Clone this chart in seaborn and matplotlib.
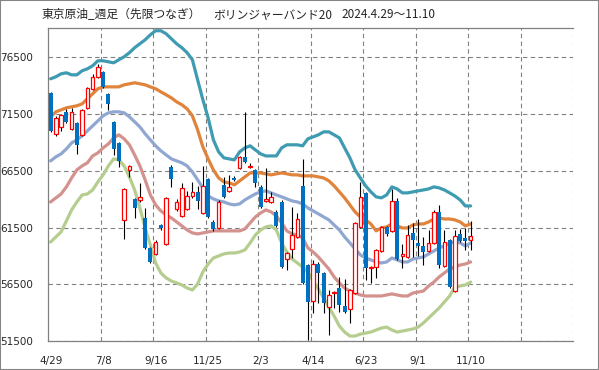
import numpy as np
import pandas as pd
import seaborn as sns
import matplotlib
matplotlib.use("Agg")
import matplotlib.pyplot as plt
from matplotlib.patches import Rectangle

# weekly OHLC, 2024/4/29 - 2025/11/10 (81 weeks)
opens = [73380, 69770, 70380, 71710, 70210, 70690, 69680, 72040, 73740, 74820,
         75180, 73300, 70830, 68970, 62130, 66590, 64000, 63900, 62330, 59680,
         59180, 61730, 60060, 66880, 63150, 62530, 63120, 64250, 64600, 62770,
         65770, 62030, 61500, 65270, 64760, 65910, 66790, 67710, 66830, 66590,
         65120, 63880, 63790, 62910, 63760, 58710, 59590, 60650, 65180, 58200,
         55050, 58290, 57500, 54500, 55730, 56170, 54590, 54320, 55730, 61560,
         64560, 57940, 58030, 59440, 61560, 61210, 63850, 59030, 58910, 61030,
         60150, 59880, 59470, 60170, 62910, 58120, 60410, 55940, 60940, 60610,
         60410]
highs = [73470, 71360, 71530, 71970, 72060, 70830, 71970, 73910, 75060, 75940,
         75350, 73390, 70910, 69060, 65000, 67030, 64120, 65440, 63240, 59790,
         60410, 61820, 64210, 67030, 64030, 65440, 64740, 65530, 65180, 66940,
         65880, 62180, 63940, 66000, 66150, 66060, 67820, 71730, 67180, 66680,
         65270, 66740, 64670, 63060, 63940, 59350, 63300, 62790, 67530, 58290,
         58650, 58470, 57590, 56000, 55910, 57150, 56970, 56090, 62000, 65530,
         64650, 58120, 59620, 61650, 61650, 64890, 64120, 60060, 61730, 61910,
         62260, 60700, 61290, 63060, 63500, 61290, 60500, 61290, 61380, 61470,
         62090]
lows = [69940, 69590, 70030, 70740, 70120, 68000, 69590, 71970, 73650, 74710,
        73830, 71880, 67910, 66850, 60500, 65970, 62350, 63760, 59590, 58380,
        59090, 61290, 59970, 65090, 62970, 62440, 63060, 64120, 63150, 62710,
        62350, 61200, 61380, 64120, 64650, 65620, 66680, 67210, 66770, 65120,
        63210, 63760, 63680, 61560, 57940, 57760, 58850, 60590, 56530, 51600,
        53990, 54850, 53970, 52030, 54410, 54060, 53970, 53090, 55650, 61470,
        56880, 56620, 57060, 59350, 60760, 61120, 58650, 57970, 58820, 58940,
        59000, 58200, 59350, 60060, 57940, 58030, 56180, 55850, 60230, 59530,
        59530]
closes = [70030, 71180, 71440, 70830, 71710, 68800, 71840, 73800, 74770, 75650,
          73890, 72410, 68440, 67380, 64890, 66900, 63210, 64180, 59680, 58500,
          60260, 61430, 64090, 65770, 63760, 64970, 64290, 64650, 63850, 65180,
          62470, 61360, 63790, 64230, 65120, 65710, 67710, 67320, 66940, 65420,
          63350, 64030, 64230, 61650, 57990, 59240, 60850, 62240, 56590, 54970,
          58290, 57520, 54850, 55560, 55820, 54670, 54060, 56000, 61910, 64210,
          57940, 58030, 59530, 61560, 60940, 63850, 58730, 59180, 60850, 60410,
          59880, 59350, 60150, 62910, 58200, 60260, 56240, 60760, 60320, 60320,
          60790]

# Bollinger band (20)
upper2 = [74620, 74800, 75060, 75150, 74970, 74970, 75330, 75500, 75770, 76210,
          76210, 76120, 76030, 76300, 76560, 76920, 77360, 77710, 78060, 78500,
          78860, 78860, 78590, 78150, 77710, 77360, 76920, 76300, 74530, 72770,
          71180, 69240, 68180, 67650, 67560, 67470, 68180, 68530, 68710, 68350,
          68000, 67820, 67820, 67820, 68530, 68800, 68800, 68800, 68710, 69330,
          69500, 69680, 69940, 69940, 69680, 69410, 68530, 67650, 66590, 65880,
          65180, 64650, 64210, 64120, 64380, 65090, 64910, 64560, 64560, 64650,
          64740, 64820, 64910, 65090, 65000, 64820, 64560, 64290, 63940, 63410,
          63410]
upper1 = [71270, 71710, 71880, 72060, 72150, 72240, 72410, 72860, 73300, 73740,
          73910, 73910, 73910, 73910, 74090, 74180, 74270, 74180, 74090, 73910,
          73740, 73470, 73210, 72940, 72590, 72330, 71970, 71360, 70120, 68620,
          67560, 66590, 65880, 65530, 65440, 65270, 65620, 65970, 66320, 66320,
          66320, 66240, 66150, 66240, 66320, 66240, 66150, 66150, 66060, 66060,
          66060, 65970, 65880, 65620, 65180, 64650, 64120, 63500, 62880, 62440,
          62180, 61820, 61210, 61470, 61560, 61820, 61650, 61470, 61470, 61730,
          61820, 61820, 62000, 62260, 62350, 62260, 62260, 62180, 62000, 61650,
          61820]
middle = [67380, 67740, 68000, 68440, 68970, 69240, 69590, 70030, 70470, 70910,
          71360, 71620, 71710, 71710, 71620, 71270, 70830, 70380, 69770, 69240,
          68710, 68270, 67910, 67560, 67380, 67210, 66940, 66410, 65710, 65000,
          64290, 64030, 63850, 63760, 63590, 63500, 63590, 63940, 64210, 64470,
          64650, 64740, 64560, 64380, 64210, 64030, 63850, 63760, 63590, 63240,
          62970, 62710, 62440, 62180, 61730, 61290, 60680, 60150, 59620, 59090,
          58820, 58650, 58470, 58380, 58470, 58820, 58650, 58470, 58470, 58730,
          58820, 58910, 59180, 59440, 59710, 59880, 60150, 60230, 60150, 59880,
          60150]
lower1 = [63760, 64120, 64470, 65090, 65880, 66590, 66940, 67210, 67820, 68090,
          68530, 68880, 69410, 69680, 69330, 68800, 67910, 66940, 65710, 64380,
          63500, 62970, 62620, 62350, 62000, 61650, 61290, 61030, 60940, 61030,
          61120, 61210, 61210, 61210, 61210, 61210, 61210, 61380, 61910, 62440,
          62790, 63060, 62880, 62530, 61910, 61210, 60940, 60850, 60590, 59710,
          59350, 58910, 58380, 57850, 57150, 56620, 56170, 55910, 55730, 55560,
          55470, 55470, 55470, 55470, 55560, 55650, 55560, 55470, 55470, 55730,
          55820, 55910, 56350, 56700, 57150, 57500, 57850, 58030, 58200, 58290,
          58470]
lower2 = [60230, 60680, 61120, 62090, 63060, 63760, 64380, 64470, 64820, 65530,
          66150, 66940, 67560, 67470, 66940, 65970, 64820, 63240, 61470, 59970,
          58380, 57500, 57060, 56790, 56620, 56440, 56170, 56000, 56530, 57590,
          58290, 58820, 59000, 59180, 59260, 59260, 59350, 59530, 60150, 60850,
          61290, 61560, 61650, 61290, 60150, 59350, 58730, 58380, 58030, 57590,
          56790, 56090, 55290, 54500, 53700, 52820, 52290, 51940, 51940, 52110,
          52200, 52290, 52470, 52640, 52730, 52470, 52290, 52380, 52470, 52560,
          52730, 53090, 53530, 53970, 54410, 54940, 55470, 56260, 56350, 56440,
          56700]

date_labels = ["4/29", "7/8", "9/16", "11/25", "2/3", "4/14", "6/23", "9/1", "11/10"]
y_ticks = [51500, 56500, 61500, 66500, 71500, 76500]

band_names = ["+2σ", "+1σ", "中心線", "-1σ", "-2σ"]
band_colors = {"+2σ": "#3f9bb1", "+1σ": "#e0833b", "中心線": "#8fa7d1",
               "-1σ": "#d4928e", "-2σ": "#b6cd90"}

weeks = np.arange(len(closes))
bands = pd.DataFrame({
    "week": np.tile(weeks, 5),
    "price": np.concatenate([upper2, upper1, middle, lower1, lower2]),
    "band": np.repeat(band_names, len(weeks)),
})

sns.set_style("white")
plt.rcParams["font.family"] = ["DejaVu Sans"]

fig = plt.figure(figsize=(5.99, 3.70), dpi=100)
ax = fig.add_axes([48 / 599, 1 - 341 / 370, 525 / 599, 313 / 370])

# bands first, candles drawn over them
sns.lineplot(data=bands, x="week", y="price", hue="band", hue_order=band_names,
             palette=band_colors, linewidth=2.3, legend=False, ax=ax, zorder=2)

for i in weeks:
    o, h, l, c = opens[i], highs[i], lows[i], closes[i]
    ax.vlines(i, l, h, color="black", lw=0.8, zorder=3)
    if c >= o:
        ax.bar(i, c - o, bottom=o, width=0.62, facecolor="white",
               edgecolor="#ff0000", lw=0.9, zorder=4)
    else:
        ax.bar(i, o - c, bottom=c, width=0.72, color="#0070c0", lw=0, zorder=4)

ax.set_xlim(-0.5, 99.5)
ax.set_ylim(51500, 79100)
ax.set_xlabel("")
ax.set_ylabel("")

grid_col = "#808080"
ax.set_yticks(y_ticks)
ax.set_yticklabels([str(v) for v in y_ticks], fontsize=7.5)
ax.set_xticks(np.arange(9.5, 100, 10))
ax.set_xticklabels([])
ax.set_xticks(np.arange(0, 81, 10), minor=True)
ax.set_xticklabels(date_labels, minor=True, fontsize=7.5)
ax.tick_params(axis="x", which="major", length=4, width=0.8, color=grid_col)
ax.tick_params(axis="x", which="minor", length=0, pad=11)
ax.tick_params(axis="y", length=5, width=0.8, color=grid_col, pad=6)
ax.grid(True, which="major", color=grid_col, linestyle=(0, (4, 3)), lw=0.8)
ax.set_axisbelow(True)

for side in ["left", "bottom", "top"]:
    ax.spines[side].set_color(grid_col)
    ax.spines[side].set_linewidth(0.9)
ax.spines["right"].set_visible(False)

cjk = ["Noto Sans CJK JP", "DejaVu Sans"]
fig.text(42 / 599, 1 - 15 / 370, "東京原油_週足（先限つなぎ）", fontsize=8.5,
         va="center", family=cjk)
fig.text(213 / 599, 1 - 15 / 370, "ボリンジャーバンド20", fontsize=8.5,
         va="center", family=cjk)
fig.text(341 / 599, 1 - 15 / 370, "2024.4.29〜11.10", fontsize=8.5,
         va="center", family=cjk)

fig.patches.append(Rectangle((0, 0), 1, 1, transform=fig.transFigure, fill=False,
                             edgecolor="#858585", lw=1.5))

fig.savefig("out.png", dpi=100)
